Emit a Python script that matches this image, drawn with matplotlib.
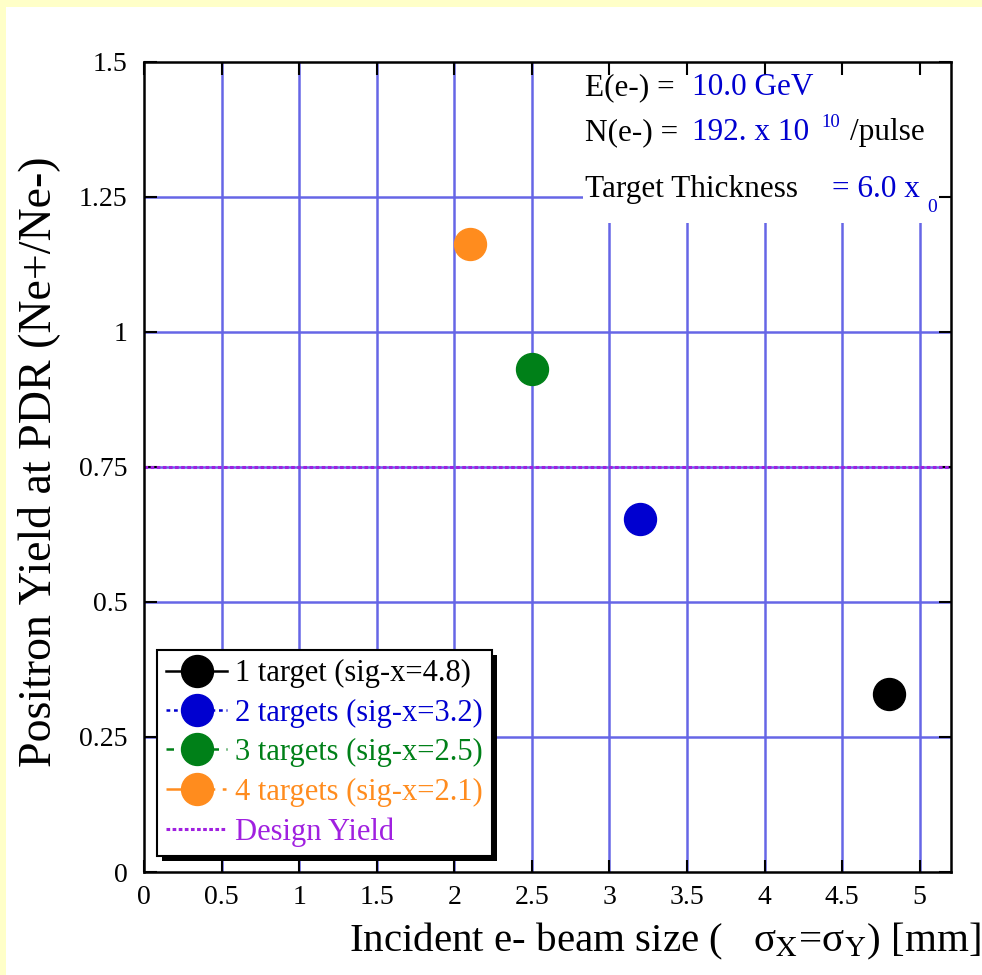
import matplotlib
matplotlib.use("Agg")
import matplotlib.pyplot as plt
from matplotlib.lines import Line2D
from matplotlib.patches import Rectangle

# ---- data ----
labels = ["1 target (sig-x=4.8)", "2 targets (sig-x=3.2)",
          "3 targets (sig-x=2.5)", "4 targets (sig-x=2.1)"]
beam_size = [4.8, 3.2, 2.5, 2.1]
yield_vals = [0.33, 0.654, 0.931, 1.163]
colors = ["#000000", "#0000D0", "#008018", "#FF8C1E"]
linestyles = ["-", (0, (1.5, 1.5)), (0, (3, 3)), (0, (6, 3, 1.5, 3))]
design_yield = 0.75
design_label = "Design Yield"
xticks = [0, 0.5, 1, 1.5, 2, 2.5, 3, 3.5, 4, 4.5, 5]
xtick_labels = ["0", "0.5", "1", "1.5", "2", "2.5", "3", "3.5", "4", "4.5", "5"]
yticks = [0, 0.25, 0.5, 0.75, 1, 1.25, 1.5]
ytick_labels = ["0", "0.25", "0.5", "0.75", "1", "1.25", "1.5"]

plt.rcParams['font.family'] = ['Liberation Serif', 'DejaVu Serif']
plt.rcParams['mathtext.fontset'] = 'stix'

fig = plt.figure(figsize=(9.82, 9.75), dpi=100, facecolor="#FFFFC8")
fig.patches.append(Rectangle((6/982, 0), 1, 1 - 7/975, transform=fig.transFigure,
                             facecolor="white", edgecolor="none", zorder=-10))

ax = fig.add_axes([0.1466, 0.1056, 0.8215, 0.8311])
ax.set_facecolor("white")
ax.set_xlim(0, 5.2)
ax.set_ylim(0, 1.5)

grid_color = "#6666E6"
for xv in xticks[1:]:
    ax.axvline(xv, color=grid_color, lw=1.8, zorder=1)
for yv in yticks[1:-1]:
    ax.axhline(yv, color=grid_color, lw=1.8, zorder=1)

ax.add_patch(Rectangle((2.83, 1.202), 5.2 - 2.83, 1.5 - 1.202, facecolor="white",
                       edgecolor="none", zorder=1.5))

ax.axhline(design_yield, color="#A020E0", lw=2.2, ls=(0, (1.2, 0.8)), zorder=2)

for x, y, c in zip(beam_size, yield_vals, colors):
    ax.plot([x], [y], "o", color=c, markersize=23, zorder=3)

ax.set_xticks(xticks)
ax.set_xticklabels(xtick_labels)
ax.set_yticks(yticks)
ax.set_yticklabels(ytick_labels)
ax.tick_params(direction="in", length=9, width=1.5, top=True, right=True,
               labelsize=20, colors="black")
ax.tick_params(axis="x", pad=9)
ax.tick_params(axis="y", pad=12)
for s in ax.spines.values():
    s.set_linewidth(1.8)
    s.set_color("black")
    s.set_zorder(2.5)

ax.set_xlabel(r"Incident e- beam size (   σ$_{\rm X}$=σ$_{\rm Y}$) [mm]",
              fontsize=29.5, ha="right", va="top")
ax.xaxis.set_label_coords(1.037, -0.06)
ax.set_ylabel("Positron Yield at PDR (Ne+/Ne-)", fontsize=33)
ax.yaxis.set_label_coords(-0.104, 0.506)

blue = "#0000D0"
fs = 22.5
ax.text(0.547, 0.959, "E(e-) =", transform=ax.transAxes, fontsize=fs, zorder=4)
ax.text(0.679, 0.959, "10.0 GeV", transform=ax.transAxes, fontsize=fs, color=blue, zorder=4)
ax.text(0.547, 0.903, "N(e-) =", transform=ax.transAxes, fontsize=fs, zorder=4)
ax.text(0.679, 0.903, "192. x 10", transform=ax.transAxes, fontsize=fs, color=blue, zorder=4)
ax.text(0.840, 0.920, "10", transform=ax.transAxes, fontsize=13.5, color=blue, zorder=4)
ax.text(0.875, 0.903, "/pulse", transform=ax.transAxes, fontsize=fs, zorder=4)
ax.text(0.547, 0.833, "Target Thickness", transform=ax.transAxes, fontsize=fs, zorder=4)
ax.text(0.853, 0.833, "= 6.0 x", transform=ax.transAxes, fontsize=fs, color=blue, zorder=4)
ax.text(0.971, 0.815, "0", transform=ax.transAxes, fontsize=14, color=blue, zorder=4)

handles = [Line2D([], [], color=c, ls=ls, lw=1.8, marker="o", markersize=23)
           for c, ls in zip(colors, linestyles)]
handles.append(Line2D([], [], color="#A020E0", ls=(0, (1.2, 0.8)), lw=2.2))
leg = ax.legend(handles, labels + [design_label], loc="upper left",
                bbox_to_anchor=(0.016, 0.274), borderaxespad=0, fontsize=22,
                labelcolor="linecolor", fancybox=False, framealpha=1,
                edgecolor="black", handlelength=2.0, handletextpad=0.27,
                labelspacing=0.34, borderpad=0.3)
leg.get_frame().set_linewidth(1.5)
leg.set_zorder(5)

# drop shadow behind legend (offset ~5 px)
fig.canvas.draw()
bb = leg.get_frame().get_window_extent()
sh = Rectangle((bb.x0 + 5, bb.y0 - 5), bb.width, bb.height, transform=None,
               facecolor="black", edgecolor="none", zorder=4.9)
ax.add_artist(sh)

fig.savefig("out.png", dpi=100, facecolor=fig.get_facecolor())
